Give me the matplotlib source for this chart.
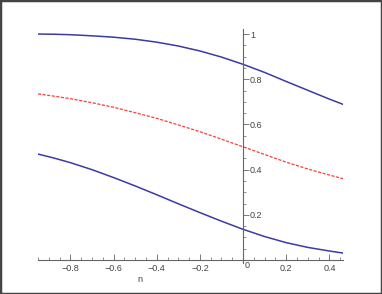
import matplotlib.pyplot as plt
from matplotlib.patches import Rectangle
from matplotlib.ticker import MultipleLocator

plt.rcParams['font.family'] = ['Liberation Sans', 'DejaVu Sans']

# values
n = [-0.95, -0.875, -0.8, -0.7, -0.6, -0.5, -0.4, -0.3, -0.2, -0.1, 0.0, 0.1, 0.2, 0.3, 0.4, 0.463]
upper = [1.0, 0.999, 0.997, 0.992, 0.986, 0.977, 0.964, 0.947, 0.925, 0.898, 0.866, 0.830,
         0.790, 0.751, 0.712, 0.689]
lower = [0.469, 0.451, 0.431, 0.400, 0.365, 0.328, 0.289, 0.249, 0.210, 0.172, 0.136, 0.104,
         0.077, 0.056, 0.040, 0.031]
middle = [0.735, 0.725, 0.714, 0.696, 0.676, 0.652, 0.627, 0.598, 0.568, 0.535, 0.501, 0.467,
          0.433, 0.403, 0.376, 0.360]

fig = plt.figure(figsize=(3.82, 2.94), dpi=100)
ax = fig.add_axes([38 / 382, 31 / 294, 305 / 382, 233.5 / 294])

ax.plot(n, upper, color='#3a3aa8', lw=1.1)
ax.plot(n, lower, color='#3a3aa8', lw=1.1)
ax.plot(n, middle, color='#ff3b3b', lw=0.9, ls=(0, (2.5, 1.2)))

ax.set_xlim(-0.95, 0.463)
ax.set_ylim(-0.013, 1.02)

for s in ['left', 'top']:
    ax.spines[s].set_visible(False)
ax.spines['right'].set_position(('data', 0))
ax.spines['bottom'].set_position(('data', 0))
for s in ['right', 'bottom']:
    ax.spines[s].set_color('#666666')
    ax.spines[s].set_linewidth(0.8)

ax.yaxis.set_ticks_position('right')
ax.xaxis.set_ticks_position('bottom')
ax.set_xticks([-0.8, -0.6, -0.4, -0.2, 0.2, 0.4])
ax.set_xticklabels(['\u22120.8', '\u22120.6', '\u22120.4', '\u22120.2', '0.2', '0.4'])
ax.set_yticks([0.2, 0.4, 0.6, 0.8, 1.0])
ax.set_yticklabels(['0.2', '0.4', '0.6', '0.8', '1'])
ax.xaxis.set_minor_locator(MultipleLocator(0.05))
ax.yaxis.set_minor_locator(MultipleLocator(0.05))
ax.tick_params(axis='x', which='major', direction='in', length=4, width=0.6,
               color='#666666', labelsize=6.5, labelcolor='#444444', pad=3)
ax.tick_params(axis='x', which='minor', direction='in', length=2, width=0.5, color='#666666')
ax.tick_params(axis='y', which='major', direction='out', length=4, width=0.6,
               color='#666666', labelsize=6.5, labelcolor='#444444', pad=1)
ax.tick_params(axis='y', which='minor', direction='out', length=2, width=0.5, color='#666666')

ax.text(0.008, -0.005, '0', fontsize=6.5, color='#444444', ha='left', va='top')
fig.text(140 / 382, 1 - 280 / 294, 'n', fontsize=6.5, color='#444444', ha='center', va='center')

fig.patches.append(Rectangle((0, 0), 1, 1, transform=fig.transFigure, fill=False,
                             edgecolor='#444444', linewidth=2.5))

fig.savefig('out.png', dpi=100)
